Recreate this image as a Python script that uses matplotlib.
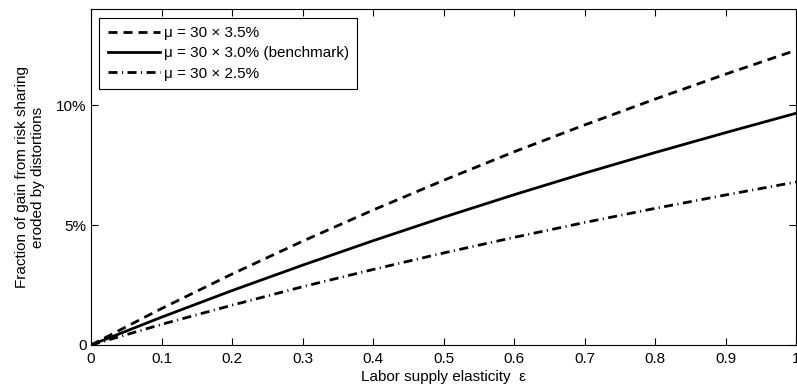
import matplotlib
matplotlib.use("Agg")
import matplotlib.pyplot as plt
from matplotlib.ticker import FixedLocator

plt.rcParams["font.family"] = ["Liberation Sans", "DejaVu Sans"]
plt.rcParams["lines.scale_dashes"] = False

# Labor supply elasticity grid
elasticity = [0.0, 0.1, 0.2, 0.3, 0.4, 0.5, 0.6, 0.7, 0.8, 0.9, 1.0]

# Fraction of the risk-sharing gain eroded by distortions
mu_35 = [0.0, 0.0152, 0.0296, 0.0433, 0.0563, 0.0687, 0.0806, 0.0918, 0.1026, 0.1130, 0.1230]
mu_30 = [0.0, 0.0116, 0.0227, 0.0333, 0.0435, 0.0533, 0.0627, 0.0717, 0.0803, 0.0886, 0.0967]
mu_25 = [0.0, 0.0086, 0.0166, 0.0243, 0.0315, 0.0384, 0.0449, 0.0511, 0.0570, 0.0626, 0.0680]

labels = ["\u03bc = 30 \u00d7 3.5%", "\u03bc = 30 \u00d7 3.0% (benchmark)", "\u03bc = 30 \u00d7 2.5%"]

x_ticks = [0, 0.1, 0.2, 0.3, 0.4, 0.5, 0.6, 0.7, 0.8, 0.9, 1.0]
x_ticklabels = ["0", "0.1", "0.2", "0.3", "0.4", "0.5", "0.6", "0.7", "0.8", "0.9", "1"]
y_ticks = [0, 0.05, 0.10]
y_ticklabels = ["0", "5%", "10%"]

fs = 11

fig = plt.figure(figsize=(7.97, 3.91), dpi=100)
ax = fig.add_axes([91 / 797, 1 - 345 / 391, 705 / 797, 335.5 / 391])

lw = 2.0
ax.plot(elasticity, mu_35, color="black", lw=lw, dashes=(6.5, 4.3), label=labels[0])
ax.plot(elasticity, mu_30, color="black", lw=lw, ls="-", label=labels[1])
ax.plot(elasticity, mu_25, color="black", lw=lw, dashes=(6.5, 3.2, 0.8, 3.2), label=labels[2])

ax.set_xlim(0, 1)
ax.set_ylim(0, 0.14)
ax.xaxis.set_major_locator(FixedLocator(x_ticks))
ax.set_xticklabels(x_ticklabels)
ax.yaxis.set_major_locator(FixedLocator(y_ticks))
ax.set_yticklabels(y_ticklabels)

ax.tick_params(direction="in", length=5, width=0.8, top=True, right=True,
               labelsize=fs)
ax.tick_params(axis="x", pad=5)
ax.tick_params(axis="y", pad=3)
for spine in ax.spines.values():
    spine.set_linewidth(0.8)

ax.set_xlabel("Labor supply elasticity  \u03b5", fontsize=fs, labelpad=3)
ax.set_ylabel("Fraction of gain from risk sharing\neroded by distortions",
              fontsize=fs, labelpad=8, linespacing=1.2)

leg = ax.legend(loc="upper left", fontsize=fs, handlelength=3.4, handletextpad=0.25,
                borderaxespad=0.55, borderpad=0.55, labelspacing=0.4,
                fancybox=False, framealpha=1)
leg.get_frame().set_edgecolor("black")
leg.get_frame().set_linewidth(0.8)

fig.savefig("out.png", dpi=100)
